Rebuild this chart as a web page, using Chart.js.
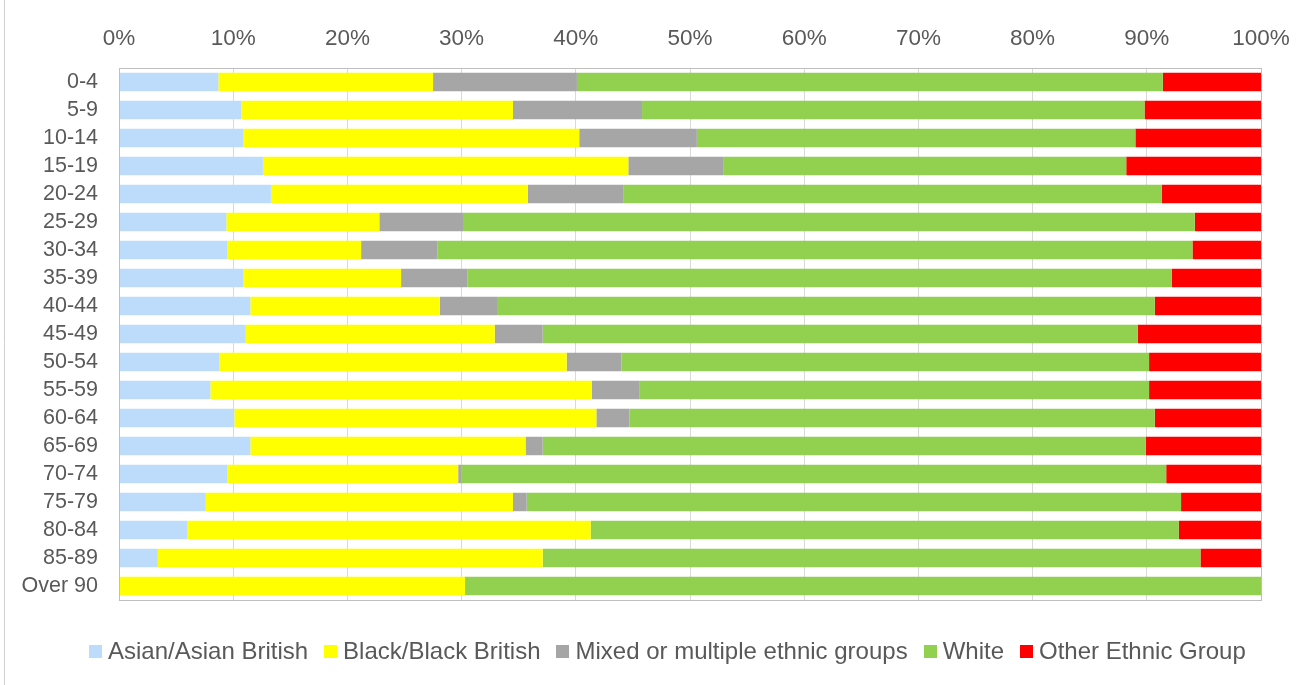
<!DOCTYPE html>
<html>
<head>
<meta charset="utf-8">
<script src="https://cdn.jsdelivr.net/npm/chart.js@4.4.1/dist/chart.umd.min.js"></script>
<style>
  body { margin: 0; background: #fff; }
  #wrap { position: relative; width: 1304px; height: 685px; }
  #legend {
    position: absolute; left: 89px; top: 638px;
    display: flex; align-items: center;
    font: 24px "Liberation Sans", Arial, sans-serif; line-height: 26px; color: #595959;
    white-space: nowrap;
  }
  #legend .item { display: flex; align-items: center; margin-right: 16px; }
  #legend .box { width: 13px; height: 13px; margin-right: 6px; }
</style>
</head>
<body>
<div id="wrap">
  <canvas id="ethnicChart" width="1304" height="685"></canvas>
  <div id="legend"></div>
</div>
<script>
// Age bands, top to bottom
const ageBands = ['0-4', '5-9', '10-14', '15-19', '20-24', '25-29', '30-34', '35-39', '40-44',
    '45-49', '50-54', '55-59', '60-64', '65-69', '70-74', '75-79', '80-84', '85-89', 'Over 90'];

// Share of each age band (%) by ethnic group
const asian = [8.7, 10.7, 10.9, 12.6, 13.3, 9.4, 9.5, 10.9, 11.5, 11.1, 8.8, 8.0, 10.1, 11.5, 9.5, 7.6, 6.0, 3.4, 0];
const black = [18.8, 23.8, 29.4, 32.0, 22.5, 13.4, 11.7, 13.8, 16.6, 21.8, 30.4, 33.4, 31.7, 24.1, 20.2, 26.9, 35.3, 33.7, 30.3];
const mixed = [12.6, 11.3, 10.3, 8.3, 8.4, 7.4, 6.7, 5.8, 5.0, 4.2, 4.8, 4.2, 2.9, 1.5, 0.3, 1.2, 0, 0, 0];
const white = [51.3, 44.0, 38.4, 35.3, 47.1, 64.0, 66.1, 61.7, 57.6, 52.1, 46.2, 44.6, 46.0, 52.8, 61.7, 57.3, 51.5, 57.6, 69.7];
const other = [8.6, 10.2, 11.0, 11.8, 8.7, 5.8, 6.0, 7.8, 9.3, 10.8, 9.8, 9.8, 9.3, 10.1, 8.3, 7.0, 7.2, 5.3, 0];

const pctTicks = [0, 10, 20, 30, 40, 50, 60, 70, 80, 90, 100];

const textColor = '#595959';
const fontFamily = '"Liberation Sans", Arial, sans-serif';

// grey frame round the plot + thin line down the left of the chart
const frame = {
    id: 'frame',
    afterDraw(chart) {
        const {ctx, chartArea: a} = chart;
        ctx.save();
        ctx.strokeStyle = '#BFBFBF';
        ctx.lineWidth = 1;
        ctx.strokeRect(Math.round(a.left) + 0.5, Math.round(a.top) + 0.5,
            Math.round(a.right - a.left), Math.round(a.bottom - a.top));
        ctx.strokeStyle = '#D0D0D0';
        ctx.beginPath();
        ctx.moveTo(4.5, 0);
        ctx.lineTo(4.5, chart.height);
        ctx.stroke();
        ctx.restore();
    }
};

function ds(label, data, color) {
    return {
        label: label,
        data: data,
        backgroundColor: color,
        borderWidth: 0,
        categoryPercentage: 1,
        barPercentage: 0.66
    };
}

const chart = new Chart(document.getElementById('ethnicChart'), {
    type: 'bar',
    data: {
        labels: ageBands,
        datasets: [
            ds('Asian/Asian British', asian, '#BDDCFB'),
            ds('Black/Black British', black, '#FFFF00'),
            ds('Mixed or multiple ethnic groups', mixed, '#A6A6A6'),
            ds('White', white, '#92D050'),
            ds('Other Ethnic Group', other, '#FF0000')
        ]
    },
    options: {
        indexAxis: 'y',
        responsive: false,
        animation: false,
        layout: { padding: { left: 0, right: 43, top: 0, bottom: 85 } },
        scales: {
            x: {
                position: 'top',
                stacked: true,
                min: 0,
                max: 100,
                afterBuildTicks: s => { s.ticks = pctTicks.map(v => ({ value: v })); },
                afterFit: s => { s.height = 68; s.paddingLeft = 0; s.paddingRight = 0; },
                grid: { color: '#D9D9D9', drawTicks: false },
                border: { display: false },
                ticks: {
                    padding: 16,
                    color: textColor,
                    font: { family: fontFamily, size: 22.5 },
                    callback: v => v + '%'
                }
            },
            y: {
                stacked: true,
                afterFit: s => { s.width = 119; },
                grid: { display: false, drawTicks: false },
                border: { display: false },
                ticks: {
                    autoSkip: false,
                    padding: 21,
                    color: textColor,
                    font: { family: fontFamily, size: 21.5 }
                }
            }
        },
        plugins: {
            tooltip: { enabled: false },
            legend: { display: false }
        }
    },
    plugins: [frame]
});

// legend row under the plot, built from the datasets
const legendEl = document.getElementById('legend');
chart.data.datasets.forEach(d => {
    const item = document.createElement('span');
    item.className = 'item';
    const box = document.createElement('span');
    box.className = 'box';
    box.style.background = d.backgroundColor;
    item.appendChild(box);
    item.appendChild(document.createTextNode(d.label));
    legendEl.appendChild(item);
});
</script>
</body>
</html>
